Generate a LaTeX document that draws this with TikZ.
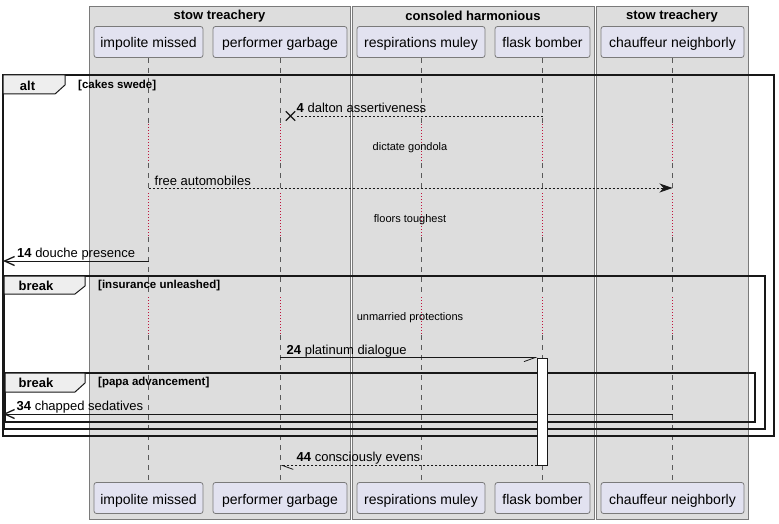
\documentclass[tikz,border=0pt]{standalone}
\usepackage{fontspec}
\setmainfont{Liberation Sans}
\usetikzlibrary{arrows.meta,shapes.misc}

\definecolor{grupo}{HTML}{DDDDDD}
\definecolor{borde}{HTML}{7A7A7A}
\definecolor{actor}{HTML}{E2E2F0}
\definecolor{fondopest}{HTML}{EEEEEE}
\definecolor{retardo}{HTML}{C0143C}
\definecolor{linea}{HTML}{181818}

\tikzset{
  caja/.style={fill=grupo, draw=borde, line width=0.8pt},
  titulo/.style={font=\fontsize{13}{15}\selectfont\bfseries, inner sep=0pt},
  part/.style={draw=borde, fill=actor, rounded corners=2.5pt, minimum height=31pt,
    inner sep=0pt, line width=0.8pt, text height=13pt, text depth=1pt,
    font=\fontsize{14}{16}\selectfont},
  vida/.style={draw=black!65, dash pattern=on 5pt off 5pt, line width=0.6pt},
  pausa/.style={draw=retardo, dash pattern=on 1pt off 2pt, line width=0.8pt},
  marco/.style={draw=linea, line width=1.5pt},
  pestana/.style={draw=linea, fill=fondopest, line width=1pt},
  guarda/.style={font=\fontsize{11.5}{13}\selectfont\bfseries, inner sep=0pt, anchor=west},
  msg/.style={draw=linea, line width=0.8pt},
  punteado/.style={dash pattern=on 2pt off 2pt},
  texto/.style={font=\fontsize{13}{15}\selectfont, inner sep=0pt, anchor=base west},
  nota/.style={font=\fontsize{11}{13}\selectfont, inner sep=0pt},
  abierta/.style={-{Straight Barb[length=10pt,width=9pt,line width=1.3pt]}},
  llena/.style={-{Stealth[length=13pt,width=9pt,inset=4pt]}},
}

\begin{document}
\begin{tikzpicture}[x=1pt,y=-1pt]
  \useasboundingbox (0,0) rectangle (779,524);

  % Grupos
  \draw[caja] (89,6) rectangle (350,519);
  \draw[caja] (352,6) rectangle (594,519);
  \draw[caja] (596,6) rectangle (748.5,519);
  \node[titulo] (t1) at (219.5,16) {stow treachery};
  \node[titulo] (t2) at (473,16) {consoled harmonious};
  \node[titulo] (t3) at (672,16) {stow treachery};

  % Participantes
  \node[part, minimum width=109pt] (im) at (148.5,42) {impolite missed};
  \node[part, minimum width=134pt] (pg) at (280,42) {performer garbage};
  \node[part, minimum width=128pt] (rm) at (421,42) {respirations muley};
  \node[part, minimum width=95pt] (fb) at (542.5,42) {flask bomber};
  \node[part, minimum width=143pt] (cn) at (672.5,42) {chauffeur neighborly};

  \node[part, minimum width=109pt] (im-b) at (148.5,498) {impolite missed};
  \node[part, minimum width=134pt] (pg-b) at (280,498) {performer garbage};
  \node[part, minimum width=128pt] (rm-b) at (421,498) {respirations muley};
  \node[part, minimum width=95pt] (fb-b) at (542.5,498) {flask bomber};
  \node[part, minimum width=143pt] (cn-b) at (672.5,498) {chauffeur neighborly};

  % Lineas de vida
  \foreach \p in {im,pg,rm,fb,cn} {
    \draw[vida] (\p) -- (\p |- 0,124);
    \draw[pausa] (\p |- 0,124) -- (\p |- 0,163);
    \draw[vida] (\p |- 0,163) -- (\p |- 0,193);
    \draw[pausa] (\p |- 0,193) -- (\p |- 0,237);
    \draw[vida] (\p |- 0,237) -- (\p |- 0,297);
    \draw[pausa] (\p |- 0,297) -- (\p |- 0,335);
    \draw[vida] (\p |- 0,335) -- (\p-b);
  }

  % Marcos
  \draw[marco] (3,75) rectangle (774,436);
  \draw[pestana] (3,75) -- (65,75) -- (65,85) -- (55,94) -- (3,94) -- cycle;
  \node[titulo] (alt) at (27.5,86) {alt};
  \node[guarda] (g1) at (78,86) {[cakes swede]};

  \draw[marco] (4,276) rectangle (765,429);
  \draw[pestana] (4,276) -- (85,276) -- (85,286) -- (75,294) -- (4,294) -- cycle;
  \node[titulo] (br1) at (36,286) {break};
  \node[guarda] (g2) at (98,286) {[insurance unleashed]};

  \draw[marco] (5,373) rectangle (755,422);
  \draw[pestana] (5,373) -- (85,373) -- (85,383) -- (75,392) -- (5,392) -- cycle;
  \node[titulo] (br2) at (36,383) {break};
  \node[guarda] (g3) at (98,383) {[papa advancement]};

  % Retardos
  \node[nota] (d1) at (410,147.5) {dictate gondola};
  \node[nota] (d2) at (410,219.5) {floors toughest};
  \node[nota] (d3) at (410,317.5) {unmarried protections};

  % Mensajes
  \node[cross out, draw=linea, line width=1.3pt, minimum size=8pt, inner sep=0pt] (x4) at (290.5,116) {};
  \draw[msg, punteado] (fb |- x4) -- (x4.east);
  \node[texto] (l4) at (296.5,112.5) {\textbf{4} dalton assertiveness};

  \draw[msg, punteado, llena] (im |- 0,188) -- (cn |- 0,188);
  \node[texto] (l8) at (154.5,185) {free automobiles};

  \coordinate (p14) at (3,261);
  \draw[msg, abierta] (im |- p14) -- (p14);
  \node[texto] (l14) at (17,257.5) {\textbf{14} douche presence};

  \coordinate (p34) at (3,414);
  \draw[msg, abierta] (cn |- p34) -- (p34);
  \node[texto] (l34) at (16.5,410.5) {\textbf{34} chapped sedatives};

  % Activacion
  \node[draw=linea, fill=white, line width=0.8pt, minimum width=9.6pt, minimum height=107pt,
    inner sep=0pt] (act) at (542.5,411.5) {};

  \draw[msg, -{Straight Barb[harpoon,swap,length=11pt,width=8pt]}] (pg |- act.north) -- (act.north west);
  \node[texto] (l24) at (286.5,354.5) {\textbf{24} platinum dialogue};

  \draw[msg, punteado, -{Straight Barb[harpoon,length=11pt,width=8pt]}] (act.south west) -- (pg |- act.south);
  \node[texto] (l44) at (296.5,461.5) {\textbf{44} consciously evens};
\end{tikzpicture}
\end{document}
